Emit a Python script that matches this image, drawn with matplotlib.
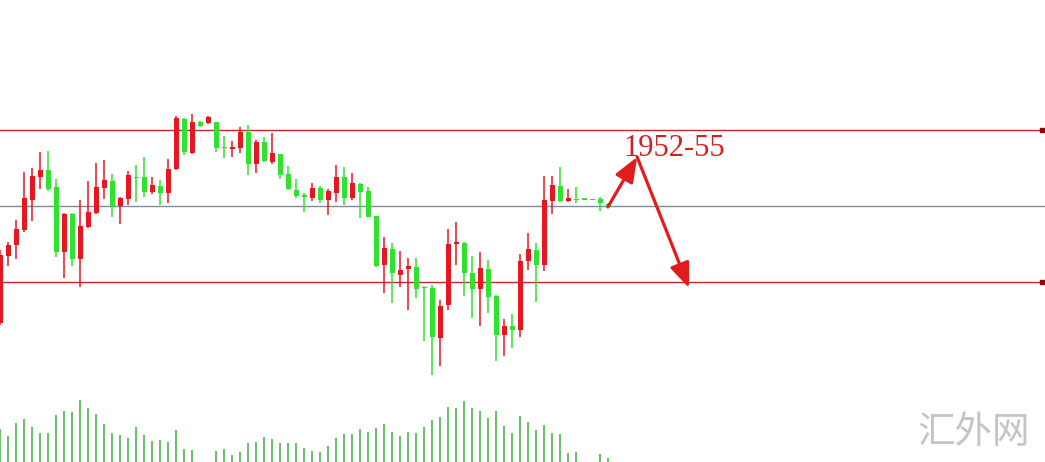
import numpy as np
import matplotlib
matplotlib.use("Agg")
import matplotlib.pyplot as plt

# candles (price units)
opens = [1916.4, 1929.8, 1932.0, 1935.0, 1941.0, 1945.6, 1947.0, 1943.6, 1930.6, 1938.2,
         1929.2, 1935.6, 1938.4, 1943.4, 1944.8, 1939.8, 1941.2, 1945.6, 1945.6, 1942.6,
         1943.8, 1942.4, 1947.2, 1957.2, 1950.4, 1956.6, 1956.4, 1956.6, 1951.6, 1951.3,
         1951.4, 1954.6, 1948.2, 1952.6, 1948.6, 1950.2, 1946.2, 1943.0, 1942.0, 1941.4,
         1943.4, 1941.0, 1942.4, 1945.6, 1941.4, 1944.2, 1942.8, 1937.8, 1928.0, 1931.2,
         1926.0, 1927.2, 1927.6, 1923.6, 1923.4, 1913.4, 1920.0, 1932.2, 1932.4, 1926.4,
         1923.2, 1927.2, 1921.8, 1914.0, 1915.8, 1915.0, 1928.8, 1931.0, 1928.0, 1940.8,
         1943.8, 1940.8, 1941.2, 1941.4, 1941.2, 1941.2, 1940.2]
highs = [1931.0, 1932.6, 1937.0, 1946.6, 1947.4, 1950.6, 1950.8, 1945.2, 1938.4, 1938.4,
         1941.0, 1944.8, 1948.4, 1949.0, 1946.2, 1941.6, 1946.8, 1948.0, 1949.6, 1945.6,
         1945.0, 1949.2, 1957.8, 1957.4, 1958.2, 1956.8, 1957.8, 1956.6, 1953.8, 1952.8,
         1955.6, 1956.0, 1953.0, 1953.6, 1954.4, 1950.2, 1947.8, 1945.2, 1942.4, 1944.4,
         1943.8, 1943.2, 1948.0, 1947.6, 1946.4, 1944.4, 1943.6, 1937.8, 1933.6, 1932.4,
         1930.8, 1929.4, 1929.4, 1923.8, 1924.0, 1921.0, 1935.2, 1936.6, 1932.6, 1929.8,
         1930.6, 1929.0, 1922.0, 1917.2, 1918.2, 1930.2, 1934.4, 1932.4, 1945.8, 1945.8,
         1947.6, 1943.2, 1943.6, 1941.4, 1941.2, 1941.6, 1940.4]
lows = [1916.0, 1927.8, 1929.2, 1934.6, 1936.8, 1943.2, 1942.8, 1929.6, 1925.4, 1927.8,
        1923.6, 1935.4, 1938.2, 1941.2, 1937.6, 1936.2, 1940.0, 1940.6, 1941.6, 1942.2,
        1940.0, 1940.4, 1947.0, 1950.0, 1950.2, 1955.6, 1956.2, 1950.6, 1949.4, 1949.6,
        1950.4, 1946.0, 1946.4, 1948.6, 1948.2, 1945.2, 1943.0, 1941.4, 1938.6, 1940.8,
        1940.4, 1938.0, 1940.6, 1940.0, 1941.0, 1937.4, 1937.6, 1927.6, 1922.4, 1920.4,
        1923.6, 1919.0, 1921.4, 1912.8, 1906.0, 1907.8, 1919.0, 1928.0, 1921.8, 1917.4,
        1915.8, 1918.4, 1908.8, 1909.8, 1911.4, 1913.6, 1927.0, 1920.6, 1926.8, 1938.2,
        1940.6, 1940.6, 1940.4, 1941.0, 1941.0, 1938.8, 1939.4]
closes = [1930.0, 1932.0, 1935.2, 1941.4, 1945.8, 1947.0, 1943.2, 1930.6, 1938.2, 1929.2,
          1935.8, 1938.6, 1943.6, 1945.0, 1939.8, 1941.4, 1946.0, 1945.4, 1942.6, 1944.0,
          1942.4, 1947.2, 1957.4, 1950.6, 1956.6, 1955.8, 1957.6, 1951.4, 1951.4, 1951.5,
          1954.6, 1948.2, 1952.6, 1948.8, 1950.4, 1946.0, 1943.2, 1941.8, 1941.6, 1943.4,
          1941.0, 1942.8, 1945.6, 1941.4, 1944.4, 1942.6, 1937.6, 1927.8, 1931.4, 1926.4,
          1927.0, 1927.8, 1923.2, 1923.4, 1913.6, 1919.8, 1932.2, 1932.6, 1926.4, 1923.2,
          1927.4, 1921.6, 1914.0, 1915.8, 1915.0, 1928.8, 1931.2, 1928.0, 1941.0, 1944.0,
          1940.8, 1941.4, 1941.0, 1941.0, 1941.0, 1940.4, 1939.6]
volumes = [33, 26, 39, 43, 35, 29, 29, 47, 51, 50, 62, 54, 48, 38, 29, 27, 24, 35, 27, 21,
           22, 20, 32, 13, 12, 0, 0, 11, 13, 7, 10, 19, 20, 25, 23, 19, 19, 19, 14, 11,
           10, 16, 24, 28, 28, 33, 30, 34, 38, 30, 26, 30, 29, 35, 42, 45, 55, 54, 61, 54,
           51, 44, 51, 36, 29, 46, 40, 32, 37, 29, 28, 9, 10, 0, 0, 8, 4]

red_levels = [1955.0, 1924.6]
mid_level = 1939.8
target_label = "1952-55"
arrow_path = [(75.95, 1939.6), (79.6, 1949.6), (86.1, 1923.4)]

up_c = '#e8161e'
dn_c = '#2ee22e'

fig = plt.figure(figsize=(10.45, 4.62), dpi=100)
ax = fig.add_axes([0, 0, 1, 1])
vax = fig.add_axes([0, 0, 1, 1], sharex=ax)
vax.patch.set_alpha(0)

x = np.arange(len(opens))
o = np.array(opens); c = np.array(closes)
cols = [up_c if cc >= oo else dn_c for oo, cc in zip(o, c)]
bottom = np.minimum(o, c)
height = np.maximum(np.abs(c - o), 0.25)

ax.vlines(x, lows, highs, colors=cols, lw=1.1, zorder=3)
ax.bar(x, height, bottom=bottom, width=0.62, color=cols, zorder=4, linewidth=0)

for lv in red_levels:
    ax.axhline(lv, color='#c8262a', lw=1.0, zorder=2)
    ax.plot([130.2], [lv], marker='s', ms=3.5, color='#8a0a0a', zorder=5)
ax.axhline(mid_level, color='#7d8c9c', lw=1.0, zorder=2)

# volume
vax.vlines(x, 0, volumes, colors='#3fae3f', lw=1.1)
vax.set_ylim(0, 462)
vax.axis('off')

# forecast arrows
for (x0, y0), (x1, y1) in zip(arrow_path[:-1], arrow_path[1:]):
    ax.annotate('', xy=(x1, y1), xytext=(x0, y0),
                arrowprops=dict(arrowstyle='-|>,head_length=1.0,head_width=0.4',
                                mutation_scale=15, lw=2.3, color='#e01c1c',
                                shrinkA=0, shrinkB=0), zorder=6)
ax.text(77.9, 1949.8, target_label, color='#d42020', fontsize=22,
        family='Liberation Serif', ha='left', va='baseline', zorder=7)

fig.text(0.932, 0.064, '汇外网', color='#c4c4c4', fontsize=27,
         family=['Noto Sans CJK SC', 'DejaVu Sans'], ha='center', va='center')

ax.set_xlim(-0.04, 130.59)
ax.set_ylim(1888.6, 1981)
ax.axis('off')

fig.savefig('out.png', dpi=100, facecolor='white')
